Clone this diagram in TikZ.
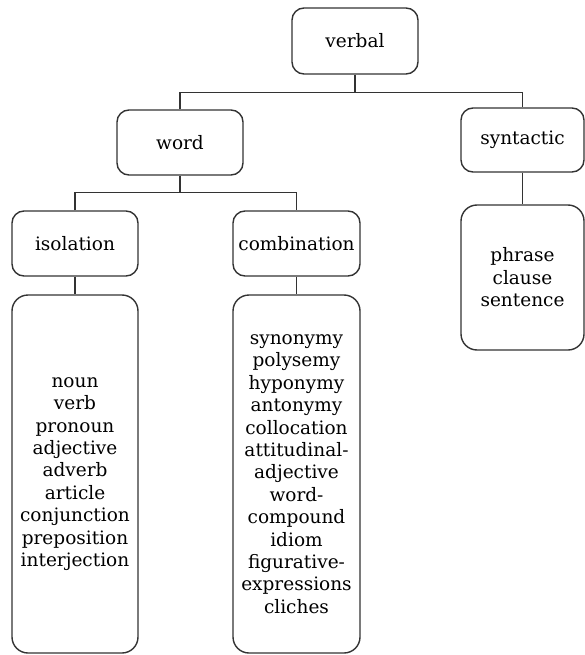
\documentclass[tikz,border=0pt]{standalone}
\usepackage{fontspec}
\setmainfont{DejaVu Serif}
\usetikzlibrary{positioning}
\begin{document}
\begin{tikzpicture}[
  x=1pt, y=-1pt,
  every node/.style={font=\fontsize{18.5}{22.4}\selectfont},
  box/.style={draw=black!80,line width=1.4pt,rounded corners=12pt,align=center,inner sep=2pt},
  list/.style={box,rounded corners=16pt},
  link/.style={draw=black!80,line width=1.4pt}
]
\useasboundingbox (0,0) rectangle (585,655);
% top
\node[box,minimum width=126pt,minimum height=66pt] (verbal) at (355,41) {verbal};
% second level
\node[box,minimum width=126pt,minimum height=65pt] (word) at (180,142.5) {word};
\node[box,minimum width=123pt,minimum height=64pt] (syntactic) at (522.5,140) {syntactic};
% third level
\node[box,minimum width=126pt,minimum height=65pt] (isolation) at (75,243.5) {isolation};
\node[box,minimum width=127pt,minimum height=65pt] (combination) at (296.5,243.5) {combination};
% lists
\node[list,minimum width=126pt,minimum height=358pt] (isolist) at (75,474) {noun\\verb\\pronoun\\adjective\\adverb\\article\\conjunction\\preposition\\interjection};
\node[list,minimum width=127pt,minimum height=358pt] (comblist) at (296.5,474) {synonymy\\polysemy\\hyponymy\\antonymy\\collocation\\attitudinal-\\adjective\\word-\\compound\\idiom\\figurative-\\expressions\\cliches};
\node[list,minimum width=123pt,minimum height=145pt] (synlist) at (522.5,277.5) {phrase\\clause\\sentence};
% connectors
\draw[link] (verbal.south) -- ++(0,18) coordinate (vj);
\draw[link] (word.north) |- (vj) -| (syntactic.north);
\draw[link] (word.south) -- ++(0,17) coordinate (wj);
\draw[link] (isolation.north) |- (wj) -| (combination.north);
\draw[link] (isolation) -- (isolist);
\draw[link] (combination) -- (comblist);
\draw[link] (syntactic) -- (synlist);
\end{tikzpicture}
\end{document}
